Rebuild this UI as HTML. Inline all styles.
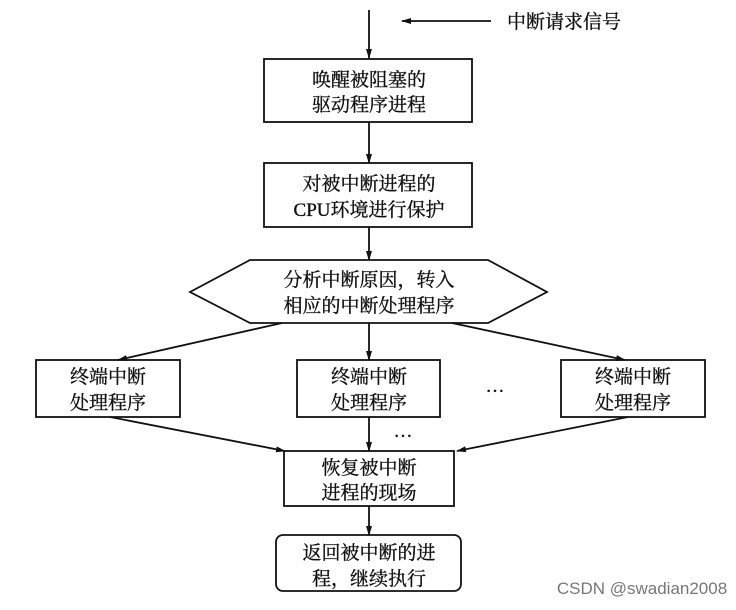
<!DOCTYPE html>
<html><head><meta charset="utf-8"><style>
html,body{margin:0;padding:0;background:#fff;}
svg text{font-family:"Liberation Serif","Noto Serif CJK SC","Noto Sans CJK SC",serif;font-size:19px;fill:#111;stroke:#111;stroke-width:0.35;text-anchor:middle;}
</style></head><body>
<svg width="736" height="605" viewBox="0 0 736 605" xmlns="http://www.w3.org/2000/svg">
<defs><marker id="a" markerWidth="10" markerHeight="8" refX="9" refY="4" orient="auto" markerUnits="userSpaceOnUse"><path d="M0,1 L10,4 L0,7 Z" fill="#111"/></marker></defs>
<g stroke="#111" stroke-width="1.8" fill="none">
<line x1="369" y1="10" x2="369" y2="58" marker-end="url(#a)"/>
<line x1="491" y1="21" x2="402" y2="21" marker-end="url(#a)"/>
<rect x="264" y="59" width="208" height="63"/>
<line x1="369" y1="122" x2="369" y2="163" marker-end="url(#a)"/>
<rect x="264" y="163" width="208" height="64"/>
<line x1="369" y1="227" x2="369" y2="260" marker-end="url(#a)"/>
<polygon points="190,292 250,260 488,260 547,292 488,323 250,323"/>
<line x1="282" y1="323" x2="118" y2="360" marker-end="url(#a)"/>
<line x1="369" y1="323" x2="369" y2="360" marker-end="url(#a)"/>
<line x1="452" y1="323" x2="625" y2="360" marker-end="url(#a)"/>
<rect x="36" y="360" width="144" height="57"/>
<rect x="297" y="360" width="143" height="57"/>
<rect x="561" y="360" width="144" height="57"/>
<line x1="110" y1="417" x2="285" y2="451" marker-end="url(#a)"/>
<line x1="369" y1="417" x2="369" y2="451" marker-end="url(#a)"/>
<line x1="628" y1="417" x2="457" y2="451" marker-end="url(#a)"/>
<rect x="284" y="451" width="170" height="55"/>
<line x1="369" y1="506" x2="369" y2="535" marker-end="url(#a)"/>
<rect x="276" y="535" width="185" height="56" rx="7"/>
</g>
<text x="564" y="28" style="font-size:19px">中断请求信号</text>
<text x="369" y="86">唤醒被阻塞的</text>
<text x="369" y="111">驱动程序进程</text>
<text x="369" y="190">对被中断进程的</text>
<text x="369" y="216">CPU环境进行保护</text>
<text x="369" y="286">分析中断原因，转入</text>
<text x="369" y="312">相应的中断处理程序</text>
<text x="108" y="383">终端中断</text>
<text x="108" y="409">处理程序</text>
<text x="369" y="383">终端中断</text>
<text x="369" y="409">处理程序</text>
<text x="633" y="383">终端中断</text>
<text x="633" y="409">处理程序</text>
<text x="495" y="392">…</text>
<text x="403" y="437">…</text>
<text x="369" y="474">恢复被中断</text>
<text x="369" y="499">进程的现场</text>
<text x="369" y="559">返回被中断的进</text>
<text x="369" y="585">程，继续执行</text>
<text x="642" y="594" style="font-family:'Liberation Sans',sans-serif;font-size:17px;fill:#777;stroke:none">CSDN @swadian2008</text>
</svg>
</body></html>
